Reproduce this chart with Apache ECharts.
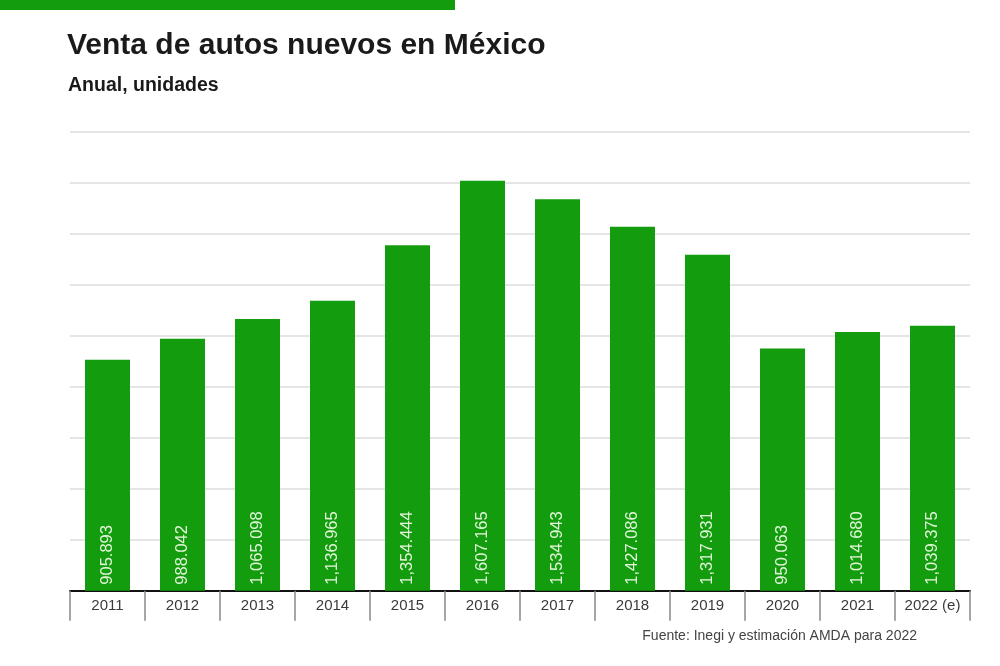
<!DOCTYPE html>
<html style="height: 100%">
<head>
<meta charset="utf-8">
<script src="https://cdn.jsdelivr.net/npm/echarts@6/dist/echarts.min.js"></script>
</head>
<body style="height: 100%; margin: 0; background: #fff">
<div id="container" style="width: 1000px; height: 666px"></div>
<script type="text/javascript">
// data
var years = ['2011', '2012', '2013', '2014', '2015', '2016', '2017', '2018', '2019', '2020', '2021', '2022 (e)'];
var ventas = [905893, 988042, 1065098, 1136965, 1354444, 1607165, 1534943, 1427086, 1317931, 950063, 1014680, 1039375];

var green = '#139c0d';
var font = '"Liberation Sans", Arial, sans-serif';

// labels in the original: comma for millions, period for thousands
function fmt(v) {
  var m = Math.floor(v / 1000000);
  var k = Math.floor((v % 1000000) / 1000);
  var u = v % 1000;
  var pad = function (n) { return ('00' + n).slice(-3); };
  if (m > 0) return m + ',' + pad(k) + '.' + pad(u);
  return k + '.' + pad(u);
}

var myChart = echarts.init(document.getElementById('container'));

var option = {
  animation: false,
  graphic: [
    { type: 'rect', left: 0, top: 0, shape: { width: 455, height: 10 }, style: { fill: green } },
    {
      type: 'text', left: 67, top: 31,
      style: { text: 'Venta de autos nuevos en México', font: 'bold 30px ' + font, fill: '#1a1a1a' }
    },
    {
      type: 'text', left: 68, top: 76,
      style: { text: 'Anual, unidades', font: 'bold 19.5px ' + font, fill: '#1a1a1a' }
    },
    {
      type: 'text', right: 83, top: 629,
      style: { text: 'Fuente: Inegi y estimación AMDA para 2022', font: '14px ' + font, fill: '#444' }
    }
  ],
  grid: { left: 70, right: 30, top: 131.7, bottom: 75.3 },
  xAxis: {
    type: 'category',
    data: years,
    axisLine: { lineStyle: { color: '#111', width: 2 } },
    axisTick: { show: true, length: 30, lineStyle: { color: '#888', width: 1.5 } },
    axisLabel: { color: '#3a3a3a', fontSize: 15, margin: 8, fontFamily: font }
  },
  yAxis: {
    type: 'value',
    min: 0,
    max: 1800000,
    interval: 200000,
    axisLabel: { show: false },
    axisLine: { show: false },
    axisTick: { show: false },
    splitLine: { lineStyle: { color: '#dcdcdc', width: 1.5 } }
  },
  series: [{
    type: 'bar',
    data: ventas,
    barCategoryGap: '40%',
    itemStyle: { color: green },
    label: {
      show: true,
      position: 'insideBottom',
      rotate: 90,
      align: 'left',
      verticalAlign: 'middle',
      distance: 6,
      color: '#e3f6dc',
      fontSize: 16.5,
      fontFamily: font,
      formatter: function (p) { return fmt(p.value); }
    }
  }]
};

myChart.setOption(option);
</script>
</body>
</html>
